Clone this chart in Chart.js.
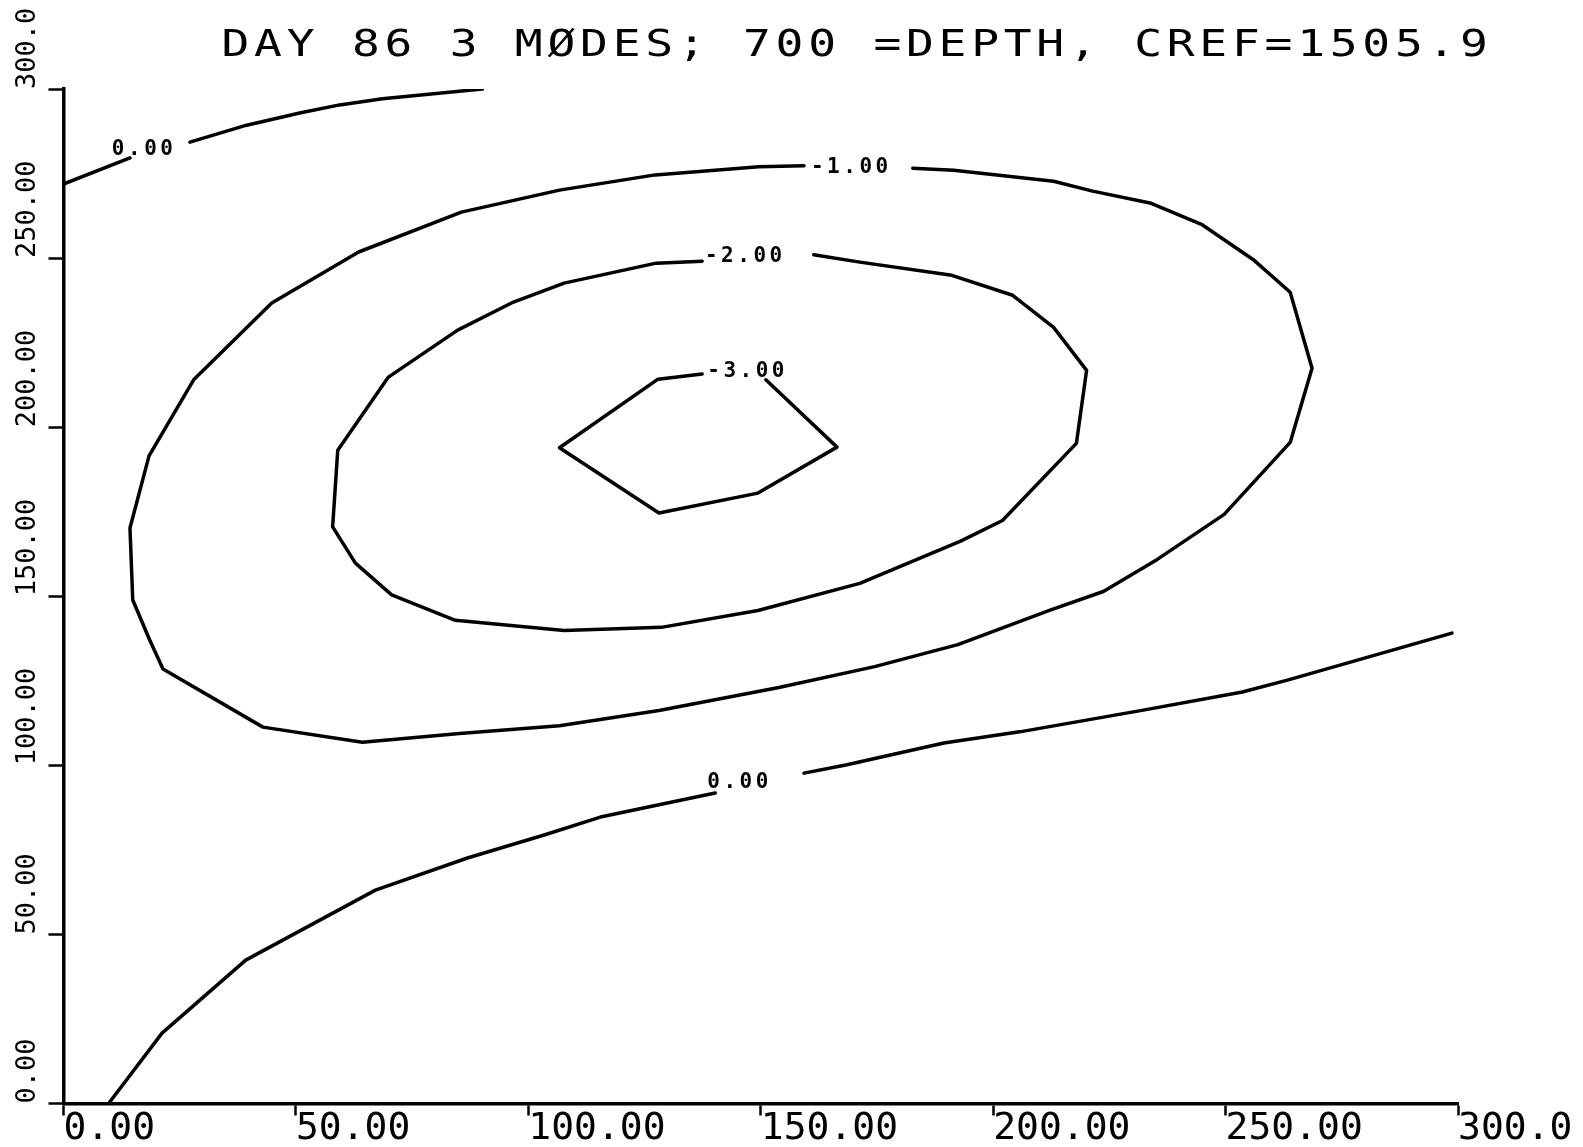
<!DOCTYPE html>
<html>
<head>
<meta charset="utf-8">
<title>DAY 86 3 MØDES; 700 =DEPTH, CREF=1505.9</title>
<script src="https://cdn.jsdelivr.net/npm/chart.js@4.4.1/dist/chart.umd.min.js"></script>
<style>
  html, body { margin: 0; padding: 0; background: #fff; }
  #wrap { width: 1583px; height: 1147px; }
</style>
</head>
<body>
<div id="wrap"><canvas id="plot" width="1583" height="1147"></canvas></div>
<script>
// Plot title
const titleText = 'DAY 86 3 MØDES; 700 =DEPTH, CREF=1505.9';

// Axis ticks (km) and their printed labels
const xTicks = [0, 50, 100, 150, 200, 250, 300];
const xTickLabels = ['0.00', '50.00', '100.00', '150.00', '200.00', '250.00', '300.0'];
const yTicks = [0, 50, 100, 150, 200, 250, 300];
const yTickLabels = ['0.00', '50.00', '100.00', '150.00', '200.00', '250.00', '300.0'];

// Contour 0.00, upper-left branch (split around its label)
const zeroUpperAX = [0, 14.3];
const zeroUpperAY = [271.9, 279.6];
const zeroUpperBX = [27.2, 39.4, 50.8, 59.4, 68.6, 90.1];
const zeroUpperBY = [284.3, 289.3, 292.9, 295.3, 297.1, 300];

// Contour 0.00, lower branch (split around its label)
const zeroLowerAX = [9.7, 21.2, 39.2, 67.1, 86.9, 103.4, 115.5, 140.2];
const zeroLowerAY = [0, 20.8, 42.4, 63.1, 72.6, 79.4, 84.7, 91.8];
const zeroLowerBX = [159.3, 168.3, 189.4, 205.7, 232.6, 253.6, 263.3, 298.7];
const zeroLowerBY = [97.7, 100.1, 106.6, 109.9, 116.4, 121.7, 125.2, 139.1];

// Contour -1.00 (closed loop, open at its label)
const minusOneX = [182.7, 191.5, 213.0, 221.4, 234.0, 244.8, 255.9, 263.9, 268.6, 263.9, 249.7,
  235.3, 223.7, 212.1, 192.4, 174.5, 153.9, 128.1, 106.7, 85.2, 64.3, 42.9, 21.4, 18.4, 14.9, 14.3,
  18.4, 28.0, 44.8, 63.5, 85.6, 106.7, 127.3, 149.6, 159.3];
const minusOneY = [276.6, 276.0, 272.7, 269.8, 266.2, 260.0, 249.6, 239.9, 217.4, 195.5, 174.2,
  160.9, 151.4, 145.8, 135.7, 129.2, 123.0, 116.2, 111.7, 109.4, 106.8, 111.3, 128.5, 137.5, 148.9, 170.2,
  191.5, 214.0, 236.7, 251.8, 263.6, 270.1, 274.6, 277.0, 277.3];

// Contour -2.00
const minusTwoX = [161.4, 171.3, 191.1, 204.2, 213.0, 220.1, 217.9, 202.0, 193.0, 171.3, 149.4,
  128.6, 107.7, 84.3, 70.6, 62.8, 57.9, 59.0, 69.9, 84.8, 96.8, 107.7, 127.5, 137.4];
const minusTwoY = [251.0, 248.8, 244.9, 239.0, 229.5, 216.8, 195.2, 172.4, 166.3, 153.8, 145.8,
  140.8, 139.9, 142.9, 150.4, 159.8, 170.5, 193.2, 214.8, 228.7, 237.0, 242.6, 248.5, 249.1];

// Contour -3.00
const minusThreeX = [137.4, 127.9, 106.7, 128.1, 149.4, 166.4, 151.1];
const minusThreeY = [215.7, 214.2, 193.9, 174.6, 180.5, 194.1, 214.0];

// Contour labels: text, left edge (x) and centre line (y) in data units
const labelText = ['0.00', '-1.00', '-2.00', '-3.00', '0.00'];
const labelX = [10.4, 160.8, 138.0, 138.5, 138.5];
const labelY = [282.0, 276.9, 250.6, 216.3, 94.8];

const segments = [
  [zeroUpperAX, zeroUpperAY], [zeroUpperBX, zeroUpperBY],
  [zeroLowerAX, zeroLowerAY], [zeroLowerBX, zeroLowerBY],
  [minusOneX, minusOneY], [minusTwoX, minusTwoY], [minusThreeX, minusThreeY]
];

const toPoints = (xs, ys) => xs.map((x, i) => ({ x: x, y: ys[i] }));

const datasets = segments.map(([xs, ys]) => ({
  data: toPoints(xs, ys),
  showLine: true,
  borderColor: '#000',
  borderWidth: 3.5,
  pointRadius: 0,
  pointHoverRadius: 0,
  fill: false,
  tension: 0,
  borderJoinStyle: 'round',
  borderCapStyle: 'round'
}));

const MONO = '"DejaVu Sans Mono", "Liberation Mono", monospace';

// Title (wide plotter-style lettering) and contour-level annotations
const annotate = {
  id: 'annotate',
  afterDatasetsDraw(chart) {
    const { ctx, chartArea, scales } = chart;
    ctx.save();
    ctx.fillStyle = '#000';
    ctx.translate(chartArea.left + 158, 56);
    ctx.scale(1.25, 1);
    ctx.font = '37px ' + MONO;
    ctx.letterSpacing = '3.8px';
    ctx.textAlign = 'left';
    ctx.textBaseline = 'alphabetic';
    ctx.fillText(titleText, 0, 0);
    ctx.restore();

    ctx.save();
    ctx.fillStyle = '#000';
    ctx.font = 'bold 21px ' + MONO;
    ctx.letterSpacing = '3.5px';
    ctx.textAlign = 'left';
    ctx.textBaseline = 'middle';
    labelText.forEach((t, i) => {
      const px = scales.x.getPixelForValue(labelX[i]);
      const py = scales.y.getPixelForValue(labelY[i]);
      ctx.fillText(t, px, py);
    });
    ctx.restore();
  }
};

new Chart(document.getElementById('plot'), {
  type: 'scatter',
  data: { datasets: datasets },
  options: {
    responsive: false,
    animation: false,
    events: [],
    layout: { padding: { left: 14, top: 89, right: 125, bottom: 0 } },
    plugins: {
      legend: { display: false },
      title: { display: false },
      tooltip: { enabled: false }
    },
    scales: {
      x: {
        type: 'linear',
        min: 0,
        max: 300,
        afterBuildTicks: s => { s.ticks = xTicks.map(v => ({ value: v })); },
        afterFit: s => { s.height = 43.5; },
        ticks: {
          autoSkip: false,
          maxRotation: 0,
          minRotation: 0,
          align: 'start',
          padding: -9,
          color: '#000',
          font: { family: MONO, size: 38 },
          callback: (v, i) => xTickLabels[i]
        },
        grid: { drawOnChartArea: false, drawTicks: true, tickLength: 12, tickColor: '#000', tickWidth: 2.5 },
        border: { display: true, color: '#000', width: 3.5 }
      },
      y: {
        type: 'linear',
        min: 0,
        max: 300,
        position: 'left',
        afterBuildTicks: s => { s.ticks = yTicks.map(v => ({ value: v })); },
        afterFit: s => { s.width = 49.5; },
        ticks: {
          autoSkip: false,
          minRotation: 90,
          maxRotation: 90,
          crossAlign: 'far',
          align: 'start',
          padding: 0,
          color: '#000',
          font: { family: MONO, size: 27 },
          callback: (v, i) => yTickLabels[i]
        },
        grid: { drawOnChartArea: false, drawTicks: true, tickLength: 15, tickColor: '#000', tickWidth: 2.5 },
        border: { display: true, color: '#000', width: 3.5 }
      }
    }
  },
  plugins: [annotate]
});
</script>
</body>
</html>
